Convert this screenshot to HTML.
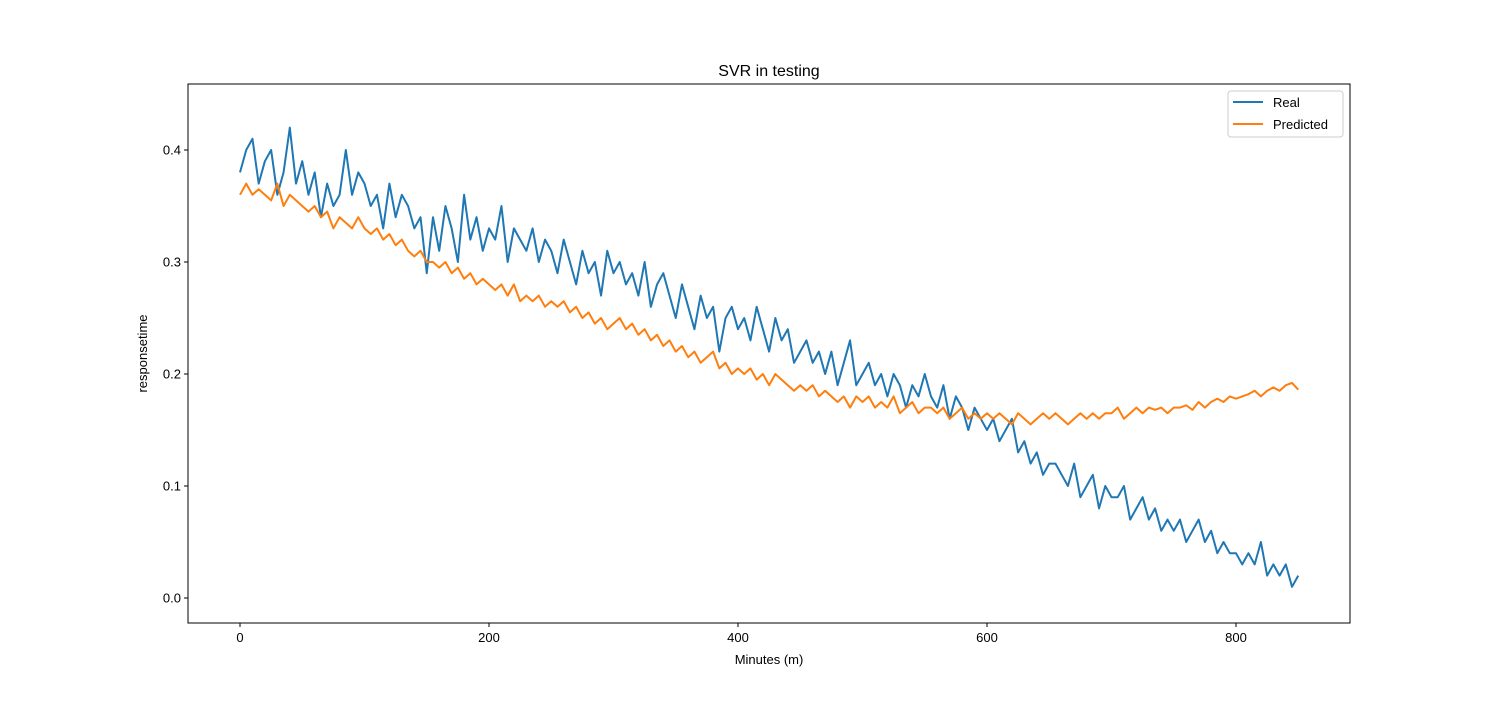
<!DOCTYPE html>
<html><head><meta charset="utf-8"><style>
html,body{margin:0;padding:0;background:#fff;}
svg text{font-family:"Liberation Sans","DejaVu Sans",sans-serif;fill:#000;}
</style></head><body>
<svg id="chart" width="1500" height="700" xmlns="http://www.w3.org/2000/svg"></svg>
<script>
const xStep = 5;
const xTicks = [0,200,400,600,800];
const yTicks = [0.0,0.1,0.2,0.3,0.4];
const yTickLabels = ["0.0","0.1","0.2","0.3","0.4"];
const realValues = [
0.38,0.40,0.41,0.37,0.39,0.40,0.36,0.38,0.42,0.37,0.39,
0.36,0.38,0.34,0.37,0.35,0.36,0.40,0.36,0.38,0.37,
0.35,0.36,0.33,0.37,0.34,0.36,0.35,0.33,0.34,0.29,
0.34,0.31,0.35,0.33,0.30,0.36,0.32,0.34,0.31,0.33,
0.32,0.35,0.30,0.33,0.32,0.31,0.33,0.30,0.32,0.31,
0.29,0.32,0.30,0.28,0.31,0.29,0.30,0.27,0.31,0.29,
0.30,0.28,0.29,0.27,0.30,0.26,0.28,0.29,0.27,0.25,
0.28,0.26,0.24,0.27,0.25,0.26,0.22,0.25,0.26,0.24,
0.25,0.23,0.26,0.24,0.22,0.25,0.23,0.24,0.21,0.22,
0.23,0.21,0.22,0.20,0.22,0.19,0.21,0.23,0.19,0.20,
0.21,0.19,0.20,0.18,0.20,0.19,0.17,0.19,0.18,0.20,
0.18,0.17,0.19,0.16,0.18,0.17,0.15,0.17,0.16,0.15,
0.16,0.14,0.15,0.16,0.13,0.14,0.12,0.13,0.11,0.12,
0.12,0.11,0.10,0.12,0.09,0.10,0.11,0.08,0.10,0.09,
0.09,0.10,0.07,0.08,0.09,0.07,0.08,0.06,0.07,0.06,
0.07,0.05,0.06,0.07,0.05,0.06,0.04,0.05,0.04,0.04,
0.03,0.04,0.03,0.05,0.02,0.03,0.02,0.03,0.01,0.02];
const predictedValues = [
0.36,0.37,0.36,0.365,0.36,0.355,0.37,0.35,0.36,0.355,0.35,
0.345,0.35,0.34,0.345,0.33,0.34,0.335,0.33,0.34,0.33,
0.325,0.33,0.32,0.325,0.315,0.32,0.31,0.305,0.31,0.30,
0.30,0.295,0.30,0.29,0.295,0.285,0.29,0.28,0.285,0.28,
0.275,0.28,0.27,0.28,0.265,0.27,0.265,0.27,0.26,0.265,
0.26,0.265,0.255,0.26,0.25,0.255,0.245,0.25,0.24,0.245,
0.25,0.24,0.245,0.235,0.24,0.23,0.235,0.225,0.23,0.22,
0.225,0.215,0.22,0.21,0.215,0.22,0.205,0.21,0.20,0.205,
0.20,0.205,0.195,0.20,0.19,0.20,0.195,0.19,0.185,0.19,
0.185,0.19,0.18,0.185,0.18,0.175,0.18,0.17,0.18,0.175,
0.18,0.17,0.175,0.17,0.18,0.165,0.17,0.175,0.165,0.17,
0.17,0.165,0.17,0.16,0.165,0.17,0.16,0.165,0.16,0.165,
0.16,0.165,0.16,0.155,0.165,0.16,0.155,0.16,0.165,0.16,
0.165,0.16,0.155,0.16,0.165,0.16,0.165,0.16,0.165,0.165,
0.17,0.16,0.165,0.17,0.165,0.17,0.168,0.17,0.165,0.17,
0.17,0.172,0.168,0.175,0.17,0.175,0.178,0.175,0.18,0.178,
0.18,0.182,0.185,0.18,0.185,0.188,0.185,0.19,0.192,0.186];

const NS="http://www.w3.org/2000/svg";
const svg=document.getElementById('chart');
const L=188,R=1350,T=84,B=623;
const xs=v=>240+(v-0)*(1236-240)/800;
const ys=v=>598-(v-0)*(598-150)/0.4;
function mk(tag,attrs,txt){const e=document.createElementNS(NS,tag);for(const k in attrs)e.setAttribute(k,attrs[k]);if(txt!==undefined)e.textContent=txt;svg.appendChild(e);return e;}

const title=mk('text',{x:(L+R)/2,y:76,'text-anchor':'middle','font-size':16},'SVR in testing');



function series(vals,color,name){
  let d='';
  vals.forEach((v,i)=>{d+=(i?'L':'M')+xs(i*xStep).toFixed(2)+','+ys(v).toFixed(2);});
  const p=mk('path',{d:d,fill:'none',stroke:color,'stroke-width':2,'stroke-linejoin':'round'});
  
  
}
series(realValues,'#1f77b4','real-line');
series(predictedValues,'#ff7f0e','predicted-line');

const frame=mk('rect',{x:L,y:T,width:R-L,height:B-T,fill:'none',stroke:'#000','stroke-width':1});



xTicks.forEach(t=>{
  const x=xs(t);
  const tk=mk('line',{x1:x,x2:x,y1:B,y2:B+4,stroke:'#000'});
  
  
  const lb=mk('text',{x:x,y:B+19,'text-anchor':'middle','font-size':13},String(t));
  
  
});
yTicks.forEach((t,i)=>{
  const y=ys(t);
  const tk=mk('line',{x1:L-4,x2:L,y1:y,y2:y,stroke:'#000'});
  
  
  const lb=mk('text',{x:L-7,y:y+4.5,'text-anchor':'end','font-size':13},yTickLabels[i]);
  
  
});
const xt=mk('text',{x:(L+R)/2,y:664,'text-anchor':'middle','font-size':13},'Minutes (m)');


const yt=mk('text',{x:147,y:(T+B)/2,'text-anchor':'middle','font-size':13,transform:'rotate(-90 147 '+((T+B)/2)+')'},'responsetime');



const lg=mk('rect',{x:1228,y:91,width:115,height:46,fill:'#fff',stroke:'#ccc',rx:3});


[['Real','#1f77b4',102],['Predicted','#ff7f0e',124]].forEach(e=>{
  const ln=mk('line',{x1:1233,x2:1263,y1:e[2],y2:e[2],stroke:e[1],'stroke-width':2});
  
  
  const tx=mk('text',{x:1273,y:e[2]+5,'font-size':13},e[0]);
  
  
});
</script>
</body></html>
